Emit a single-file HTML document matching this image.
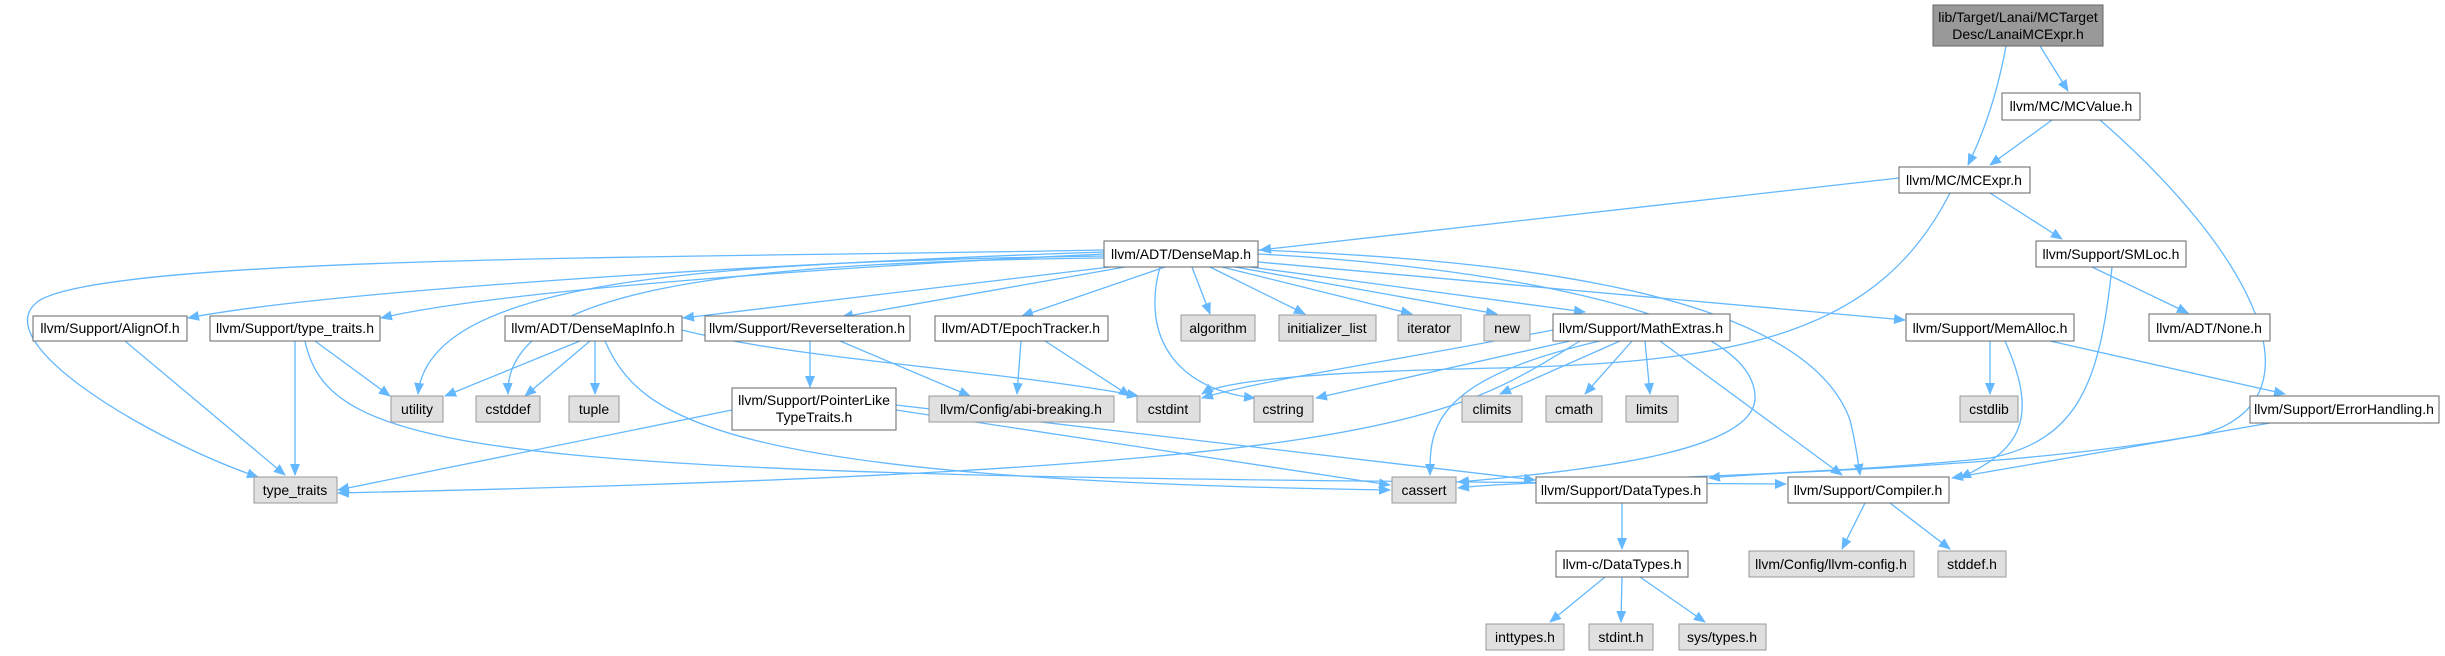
<!DOCTYPE html>
<html><head><meta charset="utf-8"><style>
html,body{margin:0;padding:0;background:#fff;}
svg{display:block;}
text{font-family:"Liberation Sans",sans-serif;font-size:14px;fill:#000;text-anchor:middle;}
.n{fill:#fff;stroke:#666;stroke-width:1;}
.g{fill:#e0e0e0;stroke:#999;stroke-width:1;}
.e path{fill:none;stroke:#63b8ff;stroke-width:1.3;}
</style></head><body>
<svg width="2445" height="656" viewBox="0 0 2445 656" xmlns="http://www.w3.org/2000/svg">
<defs><marker id="a" markerWidth="12" markerHeight="10" refX="11" refY="5" orient="auto" markerUnits="userSpaceOnUse"><path d="M0,0 L12,5 L0,10 z" fill="#63b8ff"/></marker></defs>
<g class="e" marker-end="url(#a)">
<path marker-end="url(#a)" d="M2006,46 C1998,90 1985,130 1968,165"/>
<path marker-end="url(#a)" d="M2040,46 L2068,91"/>
<path marker-end="url(#a)" d="M2052,120 L1990,165"/>
<path marker-end="url(#a)" d="M2100,120 C2250,250 2330,400 2200,435 C2000,470 1780,470 1709,478"/>
<path marker-end="url(#a)" d="M1899,178 L1260,250"/>
<path marker-end="url(#a)" d="M1990,193 L2062,239"/>
<path marker-end="url(#a)" d="M1950,193 C1880,330 1750,362 1500,368 C1300,372 1220,382 1202,394"/>
<path marker-end="url(#a)" d="M2092,267 L2188,313"/>
<path marker-end="url(#a)" d="M2112,267 C2100,380 2080,440 1990,458 C1800,478 1520,480 1458,488"/>
<path marker-end="url(#a)" d="M1104,250 C700,258 120,255 40,300 C-20,340 150,440 258,477"/>
<path marker-end="url(#a)" d="M1104,252 C800,262 330,290 188,318"/>
<path marker-end="url(#a)" d="M1104,254 C850,266 500,290 381,318"/>
<path marker-end="url(#a)" d="M1104,256 C700,262 430,280 418,394"/>
<path marker-end="url(#a)" d="M1104,258 C750,262 505,285 508,394"/>
<path marker-end="url(#a)" d="M1110,267 L683,318"/>
<path marker-end="url(#a)" d="M1125,267 L842,317"/>
<path marker-end="url(#a)" d="M1165,267 L1022,316"/>
<path marker-end="url(#a)" d="M1192,267 L1210,314"/>
<path marker-end="url(#a)" d="M1210,267 L1305,314"/>
<path marker-end="url(#a)" d="M1222,267 L1412,314"/>
<path marker-end="url(#a)" d="M1235,267 L1497,314"/>
<path marker-end="url(#a)" d="M1250,267 L1585,312"/>
<path marker-end="url(#a)" d="M1258,262 L1905,320"/>
<path marker-end="url(#a)" d="M1160,267 C1140,340 1180,390 1255,398"/>
<path marker-end="url(#a)" d="M1258,254 C1420,262 1760,300 1755,400 C1750,450 1600,470 1458,482"/>
<path marker-end="url(#a)" d="M1258,250 C1450,258 1800,280 1850,420 C1855,440 1858,460 1860,475"/>
<path marker-end="url(#a)" d="M580,341 L445,396"/>
<path marker-end="url(#a)" d="M590,341 L525,396"/>
<path marker-end="url(#a)" d="M595,341 L595,394"/>
<path marker-end="url(#a)" d="M682,330 C800,360 1000,370 1138,396"/>
<path marker-end="url(#a)" d="M605,341 C640,420 720,480 1390,490"/>
<path marker-end="url(#a)" d="M315,341 L390,396"/>
<path marker-end="url(#a)" d="M295,341 L295,475"/>
<path marker-end="url(#a)" d="M305,341 C330,460 500,478 1786,484"/>
<path marker-end="url(#a)" d="M125,341 L285,475"/>
<path marker-end="url(#a)" d="M810,341 L810,387"/>
<path marker-end="url(#a)" d="M840,341 L970,396"/>
<path marker-end="url(#a)" d="M1021,341 L1017,394"/>
<path marker-end="url(#a)" d="M1045,341 L1130,396"/>
<path marker-end="url(#a)" d="M732,410 L338,490"/>
<path marker-end="url(#a)" d="M896,410 L1390,485"/>
<path marker-end="url(#a)" d="M896,405 L1535,480"/>
<path marker-end="url(#a)" d="M1553,330 C1400,360 1260,380 1202,398"/>
<path marker-end="url(#a)" d="M1570,341 L1316,398"/>
<path marker-end="url(#a)" d="M1620,341 L1500,394"/>
<path marker-end="url(#a)" d="M1632,341 L1585,394"/>
<path marker-end="url(#a)" d="M1645,341 L1650,394"/>
<path marker-end="url(#a)" d="M1580,341 C1450,420 1400,470 338,493"/>
<path marker-end="url(#a)" d="M1600,341 C1430,380 1430,430 1430,475"/>
<path marker-end="url(#a)" d="M1660,341 L1842,475"/>
<path marker-end="url(#a)" d="M1990,341 L1990,394"/>
<path marker-end="url(#a)" d="M2005,341 C2040,420 2020,450 1960,478"/>
<path marker-end="url(#a)" d="M2050,341 L2285,394"/>
<path marker-end="url(#a)" d="M2270,423 L1952,478"/>
<path marker-end="url(#a)" d="M1622,503 L1622,549"/>
<path marker-end="url(#a)" d="M1605,577 L1550,622"/>
<path marker-end="url(#a)" d="M1622,577 L1621,622"/>
<path marker-end="url(#a)" d="M1640,577 L1705,622"/>
<path marker-end="url(#a)" d="M1865,503 L1842,549"/>
<path marker-end="url(#a)" d="M1890,503 L1950,549"/>
</g>
<g>
<rect x="1933" y="5" width="170" height="41" fill="#999" stroke="#666"/>
<text x="2018" y="22">lib/Target/Lanai/MCTarget</text><text x="2018" y="39">Desc/LanaiMCExpr.h</text>
<rect class="n" x="2002" y="93" width="138" height="27"/><text x="2071" y="111">llvm/MC/MCValue.h</text>
<rect class="n" x="1899" y="167" width="131" height="26"/><text x="1964" y="185">llvm/MC/MCExpr.h</text>
<rect class="n" x="1104" y="241" width="154" height="26"/><text x="1181" y="259">llvm/ADT/DenseMap.h</text>
<rect class="n" x="2036" y="241" width="150" height="26"/><text x="2111" y="259">llvm/Support/SMLoc.h</text>
<rect class="n" x="33" y="316" width="154" height="25"/><text x="110" y="333">llvm/Support/AlignOf.h</text>
<rect class="n" x="210" y="316" width="170" height="25"/><text x="295" y="333">llvm/Support/type_traits.h</text>
<rect class="n" x="505" y="316" width="177" height="25"/><text x="593" y="333">llvm/ADT/DenseMapInfo.h</text>
<rect class="n" x="705" y="316" width="205" height="25"/><text x="807" y="333">llvm/Support/ReverseIteration.h</text>
<rect class="n" x="935" y="316" width="173" height="25"/><text x="1021" y="333">llvm/ADT/EpochTracker.h</text>
<rect class="g" x="1181" y="315" width="74" height="26"/><text x="1218" y="333">algorithm</text>
<rect class="g" x="1279" y="315" width="97" height="26"/><text x="1327" y="333">initializer_list</text>
<rect class="g" x="1398" y="315" width="63" height="26"/><text x="1429" y="333">iterator</text>
<rect class="g" x="1484" y="315" width="46" height="26"/><text x="1507" y="333">new</text>
<rect class="n" x="1553" y="314" width="177" height="27"/><text x="1641" y="333">llvm/Support/MathExtras.h</text>
<rect class="n" x="1906" y="314" width="168" height="27"/><text x="1990" y="333">llvm/Support/MemAlloc.h</text>
<rect class="n" x="2149" y="314" width="121" height="27"/><text x="2209" y="333">llvm/ADT/None.h</text>
<rect class="g" x="391" y="396" width="52" height="26"/><text x="417" y="414">utility</text>
<rect class="g" x="476" y="396" width="64" height="26"/><text x="508" y="414">cstddef</text>
<rect class="g" x="569" y="396" width="50" height="26"/><text x="594" y="414">tuple</text>
<rect class="n" x="732" y="388" width="164" height="42"/><text x="814" y="405">llvm/Support/PointerLike</text><text x="814" y="422">TypeTraits.h</text>
<rect class="g" x="929" y="396" width="185" height="26"/><text x="1021" y="414">llvm/Config/abi-breaking.h</text>
<rect class="g" x="1137" y="396" width="63" height="26"/><text x="1168" y="414">cstdint</text>
<rect class="g" x="1254" y="396" width="59" height="26"/><text x="1283" y="414">cstring</text>
<rect class="g" x="1462" y="396" width="60" height="26"/><text x="1492" y="414">climits</text>
<rect class="g" x="1546" y="396" width="56" height="26"/><text x="1574" y="414">cmath</text>
<rect class="g" x="1626" y="396" width="52" height="26"/><text x="1652" y="414">limits</text>
<rect class="g" x="1960" y="396" width="58" height="26"/><text x="1989" y="414">cstdlib</text>
<rect class="n" x="2250" y="396" width="189" height="27"/><text x="2344" y="414">llvm/Support/ErrorHandling.h</text>
<rect class="g" x="254" y="477" width="83" height="26"/><text x="295" y="495">type_traits</text>
<rect class="g" x="1392" y="477" width="64" height="26"/><text x="1424" y="495">cassert</text>
<rect class="n" x="1536" y="477" width="171" height="26"/><text x="1621" y="495">llvm/Support/DataTypes.h</text>
<rect class="n" x="1788" y="477" width="161" height="26"/><text x="1868" y="495">llvm/Support/Compiler.h</text>
<rect class="n" x="1556" y="551" width="132" height="26"/><text x="1622" y="569">llvm-c/DataTypes.h</text>
<rect class="g" x="1749" y="551" width="165" height="26"/><text x="1831" y="569">llvm/Config/llvm-config.h</text>
<rect class="g" x="1938" y="551" width="68" height="26"/><text x="1972" y="569">stddef.h</text>
<rect class="g" x="1486" y="624" width="78" height="26"/><text x="1525" y="642">inttypes.h</text>
<rect class="g" x="1589" y="624" width="64" height="26"/><text x="1621" y="642">stdint.h</text>
<rect class="g" x="1679" y="624" width="87" height="26"/><text x="1722" y="642">sys/types.h</text>
</g>
</svg>
</body></html>
